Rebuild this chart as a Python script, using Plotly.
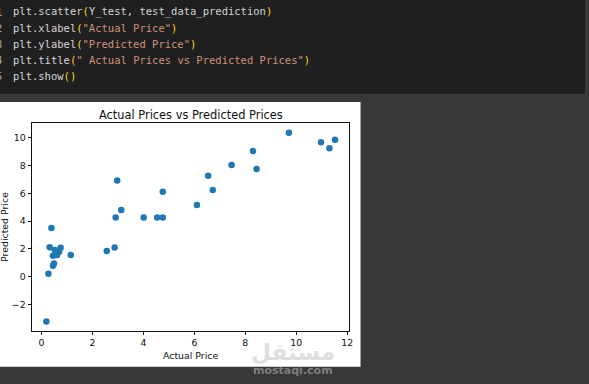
import plotly.graph_objects as go

# ---- data ----
y_test = [0.19, 0.27, 0.45, 0.49, 0.32, 0.45, 0.61, 0.69, 0.75, 0.52, 0.58, 0.39,
          1.15, 2.56, 2.87, 2.91, 2.97, 3.13, 4.01, 4.54, 4.76, 4.76, 6.10, 6.54,
          6.72, 7.46, 8.30, 8.44, 9.71, 10.97, 11.30, 11.52]
test_data_prediction = [-3.21, 0.22, 0.79, 0.96, 2.13, 1.52, 1.56, 1.80, 2.08, 1.92, 1.70, 3.50,
                        1.56, 1.85, 2.11, 4.27, 6.93, 4.80, 4.27, 4.27, 4.27, 6.12, 5.16, 7.27,
                        6.24, 8.04, 9.04, 7.75, 10.36, 9.67, 9.24, 9.86]
x_ticks = [0, 2, 4, 6, 8, 10, 12]
y_ticks = [-2, 0, 2, 4, 6, 8, 10]
title_text = "Actual Prices vs Predicted Prices"
x_label = "Actual Price"
y_label = "Predicted Price"

# code cell text: list of (segment, kind) per line
code_lines = [
    [("plt.scatter", "t"), ("(", "p"), ("Y_test, test_data_prediction", "t"), (")", "p")],
    [("plt.xlabel", "t"), ("(", "p"), ('"Actual Price"', "s"), (")", "p")],
    [("plt.ylabel", "t"), ("(", "p"), ('"Predicted Price"', "s"), (")", "p")],
    [("plt.title", "t"), ("(", "p"), ('" Actual Prices vs Predicted Prices"', "s"), (")", "p")],
    [("plt.show", "t"), ("()", "p")],
]

W, H = 589, 384


def px(x):
    return x / W


def py(y):
    return 1 - y / H


colors = {"t": "#d4d4d4", "p": "#ffd710", "s": "#ce9178"}

fig = go.Figure()
fig.add_trace(go.Scatter(
    x=y_test, y=test_data_prediction, mode="markers",
    marker=dict(color="#1f77b4", size=6.5, line=dict(width=0)),
    showlegend=False, hoverinfo="skip"))

shapes = [
    dict(type="rect", xref="paper", yref="paper", x0=0, x1=1, y0=py(94), y1=1,
         fillcolor="#1f1f1f", line=dict(width=0), layer="below"),
    dict(type="rect", xref="paper", yref="paper", x0=0, x1=px(363), y0=py(366.7), y1=py(102),
         fillcolor="#ffffff", line=dict(width=0), layer="below"),
]

annotations = []
line_y = [11.7, 27.5, 43.7, 60.0, 76.3]
for i, segs in enumerate(code_lines):
    html = "".join(f'<span style="color:{colors[k]}">{s}</span>' for s, k in segs)
    annotations.append(dict(x=px(11), y=py(line_y[i]), xref="paper", yref="paper",
                            xanchor="left", yanchor="middle", showarrow=False, text=html,
                            font=dict(family="DejaVu Sans Mono", size=10.5, color="#d4d4d4")))
    annotations.append(dict(x=px(4.5), y=py(line_y[i]), xref="paper", yref="paper",
                            xanchor="right", yanchor="middle", showarrow=False, text=str(i + 1),
                            font=dict(family="DejaVu Sans Mono", size=10.5, color="#a8a8a8")))

annotations += [
    dict(x=px(192.5), y=py(115), xref="paper", yref="paper", xanchor="center", yanchor="middle",
         showarrow=False, text=title_text, font=dict(family="DejaVu Sans", size=11.4, color="#111")),
    dict(x=px(192), y=py(355.7), xref="paper", yref="paper", xanchor="center", yanchor="middle",
         showarrow=False, text=x_label, font=dict(family="DejaVu Sans", size=9.4, color="#111")),
    dict(x=px(4), y=py(227), xref="paper", yref="paper", xanchor="center", yanchor="middle",
         showarrow=False, text=y_label, textangle=-90,
         font=dict(family="DejaVu Sans", size=9.4, color="#111")),
    dict(x=px(294.5), y=py(352), xref="paper", yref="paper", xanchor="center", yanchor="middle",
         showarrow=False, text="<b>مستقل</b>",
         font=dict(family="DejaVu Sans", size=23, color="rgba(190,190,190,0.5)")),
    dict(x=px(294.5), y=py(370), xref="paper", yref="paper", xanchor="center", yanchor="middle",
         showarrow=False, text="<b>mostaqi.com</b>",
         font=dict(family="DejaVu Sans", size=11, color="rgba(190,190,190,0.55)")),
]

axis_common = dict(showgrid=False, zeroline=False, showline=True, mirror=True,
                   linecolor="#111", linewidth=1, ticks="outside", ticklen=3.5,
                   tickwidth=0.8, tickcolor="#111",
                   tickfont=dict(family="DejaVu Sans", size=9.4, color="#111"))

fig.update_layout(
    width=W, height=H, margin=dict(l=0, r=0, t=0, b=0),
    paper_bgcolor="#383838", plot_bgcolor="#ffffff",
    xaxis=dict(domain=[px(32.3), px(351.7)], range=[-0.37, 12.08],
               tickvals=x_ticks, **axis_common),
    yaxis=dict(domain=[py(330.7), py(123.3)], range=[-3.88, 11.04],
               tickvals=y_ticks, **axis_common),
    shapes=shapes, annotations=annotations,
)

fig.write_html("out.html", config={"displayModeBar": False},
               post_script="document.body.style.margin='0';document.body.style.overflow='hidden';")
